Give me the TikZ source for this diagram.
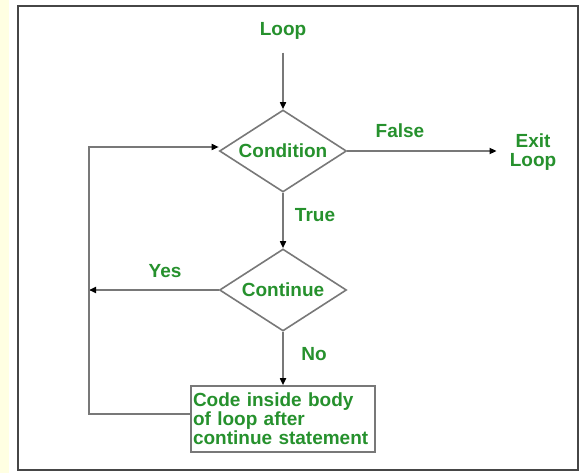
\documentclass[tikz,border=0pt]{standalone}
\usepackage{fontspec}
\setmainfont{Liberation Sans}
\usetikzlibrary{shapes.geometric,arrows.meta}
\definecolor{txtgreen}{RGB}{38,145,45}
\definecolor{linegray}{RGB}{120,120,120}
\definecolor{framegray}{RGB}{70,70,70}
\definecolor{paleyellow}{RGB}{255,255,226}
\tikzset{
  lbl/.style={font=\fontsize{19}{19.5}\selectfont\bfseries, text=txtgreen, inner sep=1pt},
  dec/.style={diamond, draw=linegray, line width=1.6pt, aspect=1.55,
              minimum width=127pt, minimum height=82pt, inner sep=0pt,
              font=\fontsize{19}{19.5}\selectfont\bfseries, text=txtgreen},
  codebox/.style={rectangle, draw=linegray, line width=1.6pt,
              minimum width=184pt, minimum height=66pt, inner sep=2pt,
              text width=180pt, align=left,
              font=\fontsize{19}{19}\selectfont\bfseries, text=txtgreen},
  conn/.style={draw=linegray, line width=1.6pt},
  arr/.style={conn, -{Triangle[length=7pt,width=6pt,color=black]}}
}
\begin{document}
\begin{tikzpicture}[x=1pt,y=-1pt]
\useasboundingbox (0,0) rectangle (585,473);
\fill[white] (0,0) rectangle (585,473);
\fill[paleyellow] (0,0) rectangle (9,473);
\draw[framegray, line width=2.5pt] (18,6) rectangle (578,470);

\node[lbl] (loop) at (283,31) {Loop};
\node[dec] (cond) at (283,151) {Condition};
\node[dec] (cont) at (283,290) {Continue};
\node[codebox] (box) at (283,419) {Code inside body\\of loop after\\continue statement};
\node[lbl, align=center] (exit) at (533,152) {Exit\\Loop};

\node[lbl] (false) at (400,131) {False};
\node[lbl] (true) at (315,215) {True};
\node[lbl] (yes) at (165,271) {Yes};
\node[lbl] (no) at (314,354) {No};

\coordinate (yesend) at (89,290);
\coordinate (loopcorner) at (89,414);
\coordinate (condin) at ([yshift=4pt]cond.west);

\draw[arr, shorten <=12pt] (loop.south) -- (cond.north);
\draw[arr, shorten >=12pt] (cond.east) -- (cond.east -| exit.west);
\draw[arr] (cond.south) -- (cont.north);
\draw[arr] (cont.west) -- (yesend);
\draw[arr] (cont.south) -- (box.north);
\draw[arr] ([yshift=5pt]box.west) -- (loopcorner) -- (loopcorner |- condin) -- (condin);
\end{tikzpicture}
\end{document}
